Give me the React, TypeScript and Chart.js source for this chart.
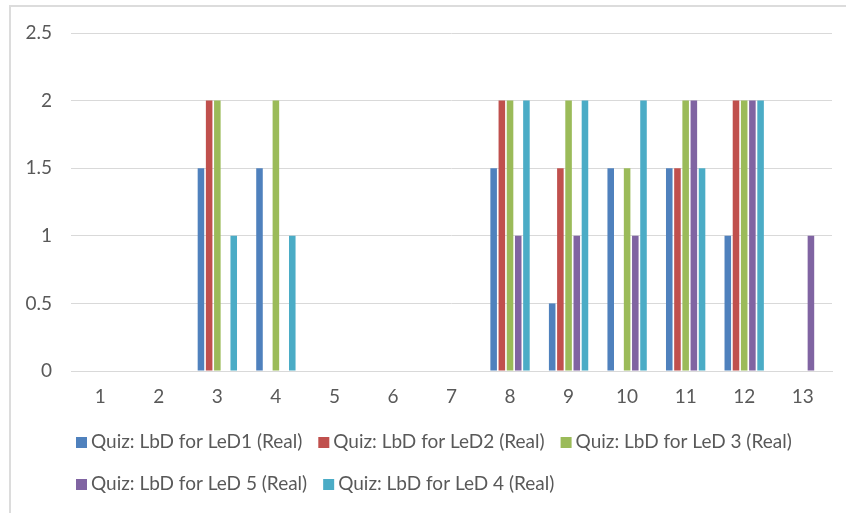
import { useEffect, useRef } from 'react';
import { Chart, registerables } from 'chart.js';

Chart.register(...registerables);

const categories = ['1', '2', '3', '4', '5', '6', '7', '8', '9', '10', '11', '12', '13'];

const seriesLabels = [
  'Quiz: LbD for LeD1 (Real)',
  'Quiz: LbD for LeD2 (Real)',
  'Quiz: LbD for LeD 3 (Real)',
  'Quiz: LbD for LeD 5 (Real)',
  'Quiz: LbD for LeD 4 (Real)',
];

const led1Values = [0, 0, 1.5, 1.5, 0, 0, 0, 1.5, 0.5, 1.5, 1.5, 1, 0];
const led2Values = [0, 0, 2, 0, 0, 0, 0, 2, 1.5, 0, 1.5, 2, 0];
const led3Values = [0, 0, 2, 2, 0, 0, 0, 2, 2, 1.5, 2, 2, 0];
const led5Values = [0, 0, 0, 0, 0, 0, 0, 1, 1, 1, 2, 2, 1];
const led4Values = [0, 0, 1, 1, 0, 0, 0, 2, 2, 2, 1.5, 2, 0];

const seriesValues = [led1Values, led2Values, led3Values, led5Values, led4Values];
const seriesColors = ['#4F81BD', '#C0504D', '#9BBB59', '#8064A2', '#4BACC6'];

const FONT = 'Lato, "Liberation Sans", sans-serif';
const FONT_SIZE = 19;
const TEXT_COLOR = '#595959';
const GRID_COLOR = '#d9d9d9';

const excelLegend = {
  id: 'excelLegend',
  afterDraw(chart: any) {
    const ctx = chart.ctx as CanvasRenderingContext2D;
    ctx.save();
    ctx.font = `${FONT_SIZE}px ${FONT}`;
    ctx.textBaseline = 'middle';
    ctx.textAlign = 'left';
    const startX = 76;
    const firstRowY = 442;
    const rowGap = 42;
    const maxX = 830;
    const box = 11;
    const gap = 4;
    const itemGap = 16;
    let x = startX;
    let row = 0;
    chart.data.datasets.forEach((ds: any) => {
      const w = ctx.measureText(ds.label).width;
      const itemW = box + gap + w;
      if (x > startX && x + itemW > maxX) {
        row++;
        x = startX;
      }
      const y = firstRowY + row * rowGap;
      ctx.fillStyle = ds.backgroundColor;
      ctx.fillRect(x, Math.round(y - box / 2), box, box);
      ctx.fillStyle = TEXT_COLOR;
      ctx.fillText(ds.label, x + box + gap, y);
      x += itemW + itemGap;
    });
    ctx.restore();
  },
};

export default function App() {
  const canvasRef = useRef<HTMLCanvasElement | null>(null);

  useEffect(() => {
    document.body.style.margin = '0';
    if (!canvasRef.current) return;
    const chart = new Chart(canvasRef.current, {
      type: 'bar',
      data: {
        labels: categories,
        datasets: seriesLabels.map((label, i) => ({
          label,
          data: seriesValues[i],
          backgroundColor: seriesColors[i],
          borderWidth: 0,
          categoryPercentage: 0.7,
          barPercentage: 0.8,
        })),
      },
      options: {
        animation: false,
        responsive: true,
        maintainAspectRatio: false,
        layout: { padding: { left: 10, right: 14, top: 33, bottom: 0 } },
        plugins: {
          legend: { display: false },
          tooltip: { enabled: false },
        },
        scales: {
          x: {
            grid: { display: false, drawTicks: false },
            border: { display: true, color: GRID_COLOR },
            ticks: {
              color: TEXT_COLOR,
              font: { family: FONT, size: FONT_SIZE },
              padding: 14,
              maxRotation: 0,
            },
            afterFit: (s: any) => {
              s.height = 142;
            },
          },
          y: {
            min: 0,
            max: 2.5,
            ticks: {
              stepSize: 0.5,
              color: TEXT_COLOR,
              font: { family: FONT, size: FONT_SIZE },
              padding: 19,
              callback: (v: any) => String(Number(v)),
            },
            grid: { color: GRID_COLOR, drawTicks: false },
            border: { display: false },
            afterFit: (s: any) => {
              s.width = 61;
            },
          },
        },
      },
      plugins: [excelLegend],
    });
    return () => chart.destroy();
  }, []);

  return (
    <div style={{ position: 'relative', width: 846, height: 513, overflow: 'hidden', background: '#fff' }}>
      <div
        style={{
          position: 'absolute',
          left: 9,
          top: 5,
          width: 900,
          height: 600,
          border: '2px solid #dcdcdc',
          boxSizing: 'border-box',
        }}
      />
      <div style={{ position: 'absolute', left: 0, top: 0, width: 846, height: 513 }}>
        <canvas ref={canvasRef} />
      </div>
    </div>
  );
}
